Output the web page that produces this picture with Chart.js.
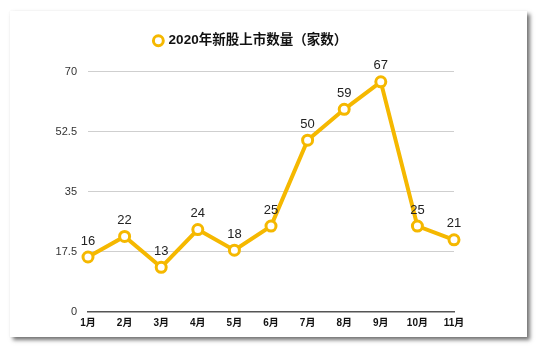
<!DOCTYPE html>
<html><head><meta charset="utf-8">
<script src="https://cdn.jsdelivr.net/npm/chart.js@4/dist/chart.umd.min.js"></script>
<style>
html,body{margin:0;padding:0;background:#fff;width:550px;height:357px;overflow:hidden;}
#card{position:absolute;left:10px;top:11px;width:517px;height:326px;background:#fff;
 box-shadow:3px 3px 4px rgba(0,0,0,0.55),0 0 2px rgba(0,0,0,0.06);}
#wrap{position:absolute;left:0;top:0;width:550px;height:357px;}
</style></head><body>
<div id="card"></div>
<div id="wrap"><canvas id="c" width="550" height="357"></canvas></div>
<script>
const categories = ["1月","2月","3月","4月","5月","6月","7月","8月","9月","10月","11月"];
const seriesName = "2020年新股上市数量（家数）";
const values = [16,22,13,24,18,25,50,59,67,25,21];
const yTicks = [0,17.5,35,52.5,70];

const LINE = "#F5B800";
const FONT = "'Liberation Sans','Noto Sans CJK SC',sans-serif";

const valueLabels = {
  id:'valueLabels',
  afterDatasetsDraw(chart){
    const ctx = chart.ctx;
    const meta = chart.getDatasetMeta(0);
    ctx.save();
    ctx.font = "13px " + FONT;
    ctx.fillStyle = "#222";
    ctx.textAlign = "center";
    ctx.textBaseline = "middle";
    meta.data.forEach((pt,i)=>{
      ctx.fillText(String(chart.data.datasets[0].data[i]), pt.x, pt.y - 16);
    });
    ctx.restore();
  }
};

const spacer = {
  id:'spacer',
  beforeInit(chart){
    const box = {
      position:'top', weight:0, fullSize:false, options:{},
      top:0,left:0,right:0,bottom:0,width:0,height:0,
      update(maxW){ this.width = maxW; this.height = 14; },
      isHorizontal(){ return true; },
      draw(){}
    };
    Chart.layouts.addBox(chart, box);
  }
};

new Chart(document.getElementById('c'), {
  type:'line',
  data:{
    labels:categories,
    datasets:[{
      label:seriesName,
      data:values,
      borderColor:LINE,
      backgroundColor:'#fff',
      borderWidth:4,
      tension:0,
      pointRadius:5,
      pointHoverRadius:5,
      pointBorderWidth:3,
      pointBackgroundColor:'#fff',
      pointBorderColor:LINE
    }]
  },
  options:{
    responsive:false,
    animation:false,
    devicePixelRatio:1,
    layout:{padding:{left:48,right:96,top:11,bottom:20}},
    plugins:{
      tooltip:{enabled:false},
      legend:{
        display:true,
        position:'top',
        labels:{
          usePointStyle:true,
          boxWidth:7,
          boxHeight:7,
          padding:23,
          color:'#111',
          font:{family:FONT,size:13.5,weight:'bold'},
          generateLabels(chart){
            return [{
              text:seriesName,
              fillStyle:'#fff',
              strokeStyle:LINE,
              lineWidth:3,
              pointStyle:'circle',
              datasetIndex:0,
              hidden:false,
              fontColor:'#111'
            }];
          }
        }
      }
    },
    scales:{
      x:{
        offset:false,
        grid:{display:false,drawTicks:false},
        border:{display:true,color:'#555',width:1.5},
        ticks:{padding:5,color:'#111',font:{family:FONT,size:10,weight:'bold'},maxRotation:0,autoSkip:false},
        afterFit(s){ s.height = 25; }
      },
      y:{
        min:0,max:70,
        afterBuildTicks(s){ s.ticks = yTicks.map(v=>({value:v})); },
        grid:{color:(c)=> c.tick && c.tick.value===0 ? 'rgba(0,0,0,0)' : '#cfcfcf', lineWidth:1, drawTicks:false},
        border:{display:false},
        ticks:{padding:11,color:'#333',font:{family:FONT,size:11}},
        afterFit(s){ s.width = 40; }
      }
    }
  },
  plugins:[valueLabels, spacer]
});
</script>
</body></html>
